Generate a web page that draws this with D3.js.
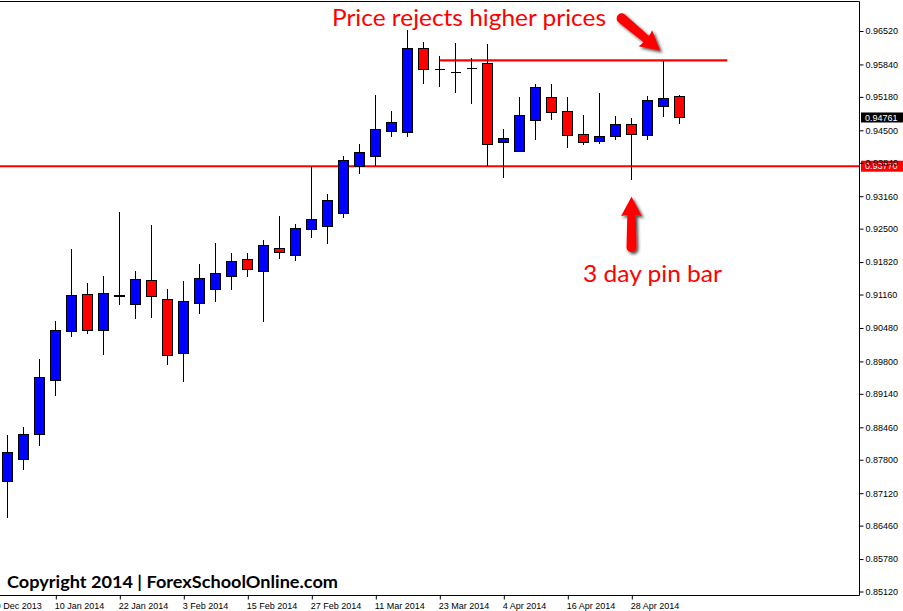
<!DOCTYPE html>
<html>
<head>
<meta charset="utf-8">
<script src="https://cdn.jsdelivr.net/npm/d3@7"></script>
<style>
  html, body { margin: 0; padding: 0; background: #fff; }
  svg { display: block; }
</style>
</head>
<body>
<svg id="chart" width="903" height="611"></svg>
<script>
//
// Data (3 day candles)
//

var opens  = [0.87353, 0.87809, 0.88309, 0.89407, 0.90404, 0.91165, 0.90424, 0.91126, 0.90961, 0.91450,
              0.91063, 0.89957, 0.90974, 0.91258, 0.91523, 0.91877, 0.91624, 0.92100, 0.91954, 0.92487,
              0.92548, 0.92812, 0.93768, 0.93972, 0.94480, 0.94460, 0.96168, 0.95741, 0.95680, 0.95761,
              0.95863, 0.94256, 0.94073, 0.94704, 0.95172, 0.94887, 0.94419, 0.94277, 0.94378, 0.94622,
              0.94391, 0.94989, 0.95192]
var highs  = [0.88303, 0.88466, 0.89849, 0.90622, 0.92086, 0.91395, 0.91537, 0.92833, 0.91639, 0.92574,
              0.91273, 0.91435, 0.91781, 0.92208, 0.92005, 0.92005, 0.92269, 0.92757, 0.92595, 0.93775,
              0.93205, 0.93978, 0.94216, 0.95218, 0.94893, 0.96534, 0.96296, 0.96012, 0.96276, 0.95971,
              0.96256, 0.94527, 0.95178, 0.95442, 0.95442, 0.95172, 0.94805, 0.95259, 0.94785, 0.94744,
              0.95192, 0.95904, 0.95212]
var lows   = [0.86621, 0.87597, 0.88085, 0.89102, 0.90302, 0.90363, 0.89936, 0.90953, 0.90669, 0.90689,
              0.89733, 0.89387, 0.90770, 0.91014, 0.91258, 0.91517, 0.90607, 0.91889, 0.91852, 0.92316,
              0.92194, 0.92723, 0.93618, 0.93780, 0.94370, 0.94370, 0.95436, 0.95387, 0.95265, 0.95041,
              0.93775, 0.93536, 0.94073, 0.94309, 0.94716, 0.94146, 0.94208, 0.94228, 0.94297, 0.93496,
              0.94309, 0.94777, 0.94635]
var closes = [0.87951, 0.88317, 0.89477, 0.90432, 0.91144, 0.90424, 0.91185, 0.91134, 0.91470, 0.91124,
              0.89924, 0.91022, 0.91490, 0.91592, 0.91836, 0.91665, 0.92161, 0.92019, 0.92507, 0.92690,
              0.93077, 0.93890, 0.94053, 0.94521, 0.94663, 0.96168, 0.95741, 0.95741, 0.95680, 0.95761,
              0.94216, 0.94338, 0.94805, 0.95375, 0.94866, 0.94399, 0.94256, 0.94378, 0.94622, 0.94419,
              0.95111, 0.95151, 0.94761]

// bar index of each date label
var tickIdx = [-1, 3, 7, 11, 15, 19, 23, 27, 31, 35, 39]
var tickLabels = ['29 Dec 2013', '10 Jan 2014', '22 Jan 2014', '3 Feb 2014', '15 Feb 2014', '27 Feb 2014',
                  '11 Mar 2014', '23 Mar 2014', '4 Apr 2014', '16 Apr 2014', '28 Apr 2014']
var priceTicks = [0.96520, 0.95840, 0.95180, 0.94500, 0.93840, 0.93160, 0.92500, 0.91820, 0.91160,
                  0.90480, 0.89800, 0.89140, 0.88460, 0.87800, 0.87120, 0.86460, 0.85780, 0.85120]

var supportLevel = 0.93770
var resistLevel = 0.95924
var resistFrom = 27, resistTo = 45
var lastPrice = 0.94761
var pinBar = 39

//
// Layout
//

var plotRight = 859
var plotTop = 1
var plotBottom = 595
var colorUp = '#0000ff'
var colorDown = '#ff0000'
var colorLine = '#ff0000'

var svg = d3.select('#chart')
var xs = d3.scaleLinear().domain([0, 42]).range([7.3, 679.3])
var ys = d3.scaleLinear().domain([0.850489, 0.971302]).range([plotBottom, plotTop])

svg.append('defs').append('filter')
    .attr('id', 'shadow')
    .attr('x', '-50%').attr('y', '-50%').attr('width', '200%').attr('height', '200%')
  .append('feDropShadow')
    .attr('dx', 2).attr('dy', 2).attr('stdDeviation', 1.6)
    .attr('flood-color', '#222').attr('flood-opacity', 0.8)

//
// Horizontal levels
//

svg.append('line')
  .attr('x1', 0).attr('x2', plotRight)
  .attr('y1', ys(supportLevel)).attr('y2', ys(supportLevel))
  .attr('stroke', colorLine).attr('stroke-width', 2)

svg.append('line')
  .attr('x1', xs(resistFrom)).attr('x2', xs(resistTo))
  .attr('y1', ys(resistLevel)).attr('y2', ys(resistLevel))
  .attr('stroke', colorLine).attr('stroke-width', 2.2)

//
// Candles
//

var bars = d3.range(opens.length).map(function(i) {
  return { i: i, o: opens[i], h: highs[i], l: lows[i], c: closes[i] }
})

var g = svg.append('g').attr('shape-rendering', 'crispEdges')

g.selectAll('line.wick')
  .data(bars)
  .enter().append('line')
    .attr('class', 'wick')
    .attr('x1', function(d) { return Math.round(xs(d.i)) + 0.5 })
    .attr('x2', function(d) { return Math.round(xs(d.i)) + 0.5 })
    .attr('y1', function(d) { return ys(d.h) })
    .attr('y2', function(d) { return ys(d.l) })
    .attr('stroke', '#000')

g.selectAll('rect.body')
  .data(bars.filter(function(d) { return d.o !== d.c }))
  .enter().append('rect')
    .attr('class', 'body')
    .attr('x', function(d) { return Math.round(xs(d.i)) - 4.5 })
    .attr('width', 10)
    .attr('y', function(d) { return ys(Math.max(d.o, d.c)) })
    .attr('height', function(d) { return Math.abs(ys(d.o) - ys(d.c)) })
    .attr('fill', function(d) { return d.c > d.o ? colorUp : colorDown })
    .attr('stroke', '#000')

// doji
g.selectAll('line.doji')
  .data(bars.filter(function(d) { return d.o === d.c }))
  .enter().append('line')
    .attr('class', 'doji')
    .attr('x1', function(d) { return Math.round(xs(d.i)) - 4.5 })
    .attr('x2', function(d) { return Math.round(xs(d.i)) + 5.5 })
    .attr('y1', function(d) { return ys(d.o) })
    .attr('y2', function(d) { return ys(d.o) })
    .attr('stroke', '#000')

//
// Frame and axes
//

svg.append('path')
  .attr('d', 'M0,' + (plotTop + 0.5) + 'H' + (plotRight + 0.5) + 'V' + (plotBottom + 0.5) + 'H0')
  .attr('fill', 'none').attr('stroke', '#000')

var yAxis = svg.append('g')
  .attr('transform', 'translate(' + (plotRight + 0.5) + ',0)')
  .call(d3.axisRight(ys).tickValues(priceTicks).tickSize(4).tickPadding(2).tickFormat(d3.format('.5f')))
yAxis.select('.domain').remove()

var xAxis = svg.append('g')
  .attr('transform', 'translate(0,' + (plotBottom + 0.5) + ')')
  .call(d3.axisBottom(xs).tickValues(tickIdx).tickSize(4).tickPadding(3)
    .tickFormat(function(d, i) { return tickLabels[i] }))
xAxis.select('.domain').remove()
xAxis.selectAll('.tick line').attr('transform', 'translate(0.5,0)')
xAxis.selectAll('.tick text').attr('text-anchor', 'start').attr('x', -1)

svg.selectAll('.tick text')
  .attr('font-family', '"Liberation Sans", Arial, sans-serif')
  .attr('font-size', 9)
  .attr('fill', '#000')

// price boxes on the axis
function priceBox(val, bg, h) {
  var y = ys(val)
  svg.append('rect')
    .attr('x', plotRight + 2).attr('y', y - h / 2)
    .attr('width', 903 - plotRight - 2).attr('height', h)
    .attr('fill', bg)
  svg.append('text')
    .attr('x', plotRight + 6).attr('y', y)
    .attr('dy', '0.35em')
    .attr('font-family', '"Liberation Sans", Arial, sans-serif')
    .attr('font-size', 9)
    .attr('fill', '#fff')
    .text(d3.format('.5f')(val))
}
priceBox(lastPrice, '#000', 10)
priceBox(supportLevel, '#ff0000', 11)

// keep the 0.93840 tick label on top of the red box
yAxis.raise()
svg.selectAll('.tick text').filter(function(d) { return d === 0.93840 }).attr('fill', '#000')

//
// Annotations
//

var arrowPath = 'M0,0 L10.5,19.5 Q6.5,18.2 4.2,18.6 L5,50.5 A5,5 0 0 1 -5,50.5 L-4.2,18.6 Q-6.5,18.2 -10.5,19.5 Z'

function arrow(tipX, tipY, angle) {
  svg.append('g')
    .attr('filter', 'url(#shadow)')
    .append('path')
      .attr('d', arrowPath)
      .attr('transform', 'translate(' + tipX + ',' + tipY + ') rotate(' + angle + ')')
      .attr('fill', '#ff0000')
}

// top: points at the rejection wick
arrow(xs(41) - 3, ys(resistLevel) - 9.5, 130)
// bottom: points at the pin bar low
arrow(Math.round(xs(pinBar)) + 0.5, ys(lows[pinBar]) + 17, 0)

svg.append('text')
  .attr('x', 332).attr('y', 25.5)
  .attr('font-family', 'Lato, "Open Sans", sans-serif')
  .attr('font-size', 24)
  .attr('fill', '#ff0000')
  .attr('textLength', 274).attr('lengthAdjust', 'spacingAndGlyphs')
  .text('Price rejects higher prices')

svg.append('text')
  .attr('x', 583).attr('y', 281.5)
  .attr('font-family', 'Lato, "Open Sans", sans-serif')
  .attr('font-size', 24)
  .attr('fill', '#ff0000')
  .attr('textLength', 139).attr('lengthAdjust', 'spacingAndGlyphs')
  .text('3 day pin bar')

svg.append('text')
  .attr('x', 7).attr('y', 588)
  .attr('font-family', 'Lato, "Open Sans", sans-serif')
  .attr('font-weight', 'bold')
  .attr('font-size', 17)
  .attr('fill', '#000')
  .attr('textLength', 331).attr('lengthAdjust', 'spacingAndGlyphs')
  .text('Copyright 2014 | ForexSchoolOnline.com')
</script>
</body>
</html>
